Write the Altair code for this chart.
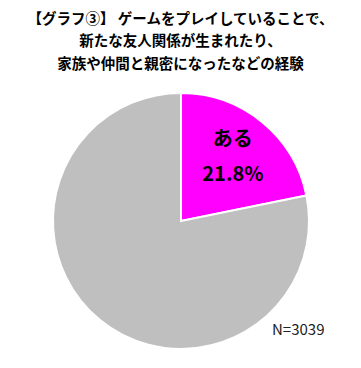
import altair as alt
import pandas as pd

categories = ["ある", "ない"]
values = [21.8, 78.2]
colors = ["#FF00FF", "#BFBFBF"]
title_lines = ["【グラフ③】 ゲームをプレイしていることで、", "新たな友人関係が生まれたり、", "家族や仲間と親密になったなどの経験"]
label_lines = ["ある", "21.8%"]
n_label = "N=3039"

df = pd.DataFrame({"cat": categories, "val": values, "order": [0, 1]})

CX, CY, R = 173, 146, 128

base = alt.Chart(df).encode(
    theta=alt.Theta("val:Q", stack=True),
    order=alt.Order("order:Q"),
    color=alt.Color("cat:N", scale=alt.Scale(domain=categories, range=colors), legend=None),
)

pie = base.mark_arc(outerRadius=R, stroke="white", strokeWidth=2).encode(
    x=alt.value(CX), y=alt.value(CY)
)

labels = alt.Chart(df).transform_filter(alt.datum.cat == "ある").mark_text(
    radius=82, fontSize=20, fontWeight="bold", font="Noto Sans CJK JP", color="black",
    lineHeight=35, baseline="middle", dy=-17
).encode(
    theta=alt.Theta("val:Q", stack=True),
    order=alt.Order("order:Q"),
    x=alt.value(CX), y=alt.value(CY),
    text=alt.value(label_lines),
)

ntext = alt.Chart(pd.DataFrame({"t": [n_label]})).mark_text(
    align="left", baseline="middle", fontSize=15, font="Noto Sans CJK JP", color="#222222"
).encode(x=alt.value(264), y=alt.value(255), text="t:N")

chart = alt.layer(pie, labels, ntext).properties(
    width=345, height=282,
    padding={"top": 3, "left": 0, "right": 0, "bottom": 0},
    title=alt.TitleParams(
        text=title_lines, fontSize=14.5, fontWeight="bold", font="Noto Sans CJK JP",
        lineHeight=22.5, anchor="middle", offset=3, color="black"
    ),
).configure_view(stroke=None)

chart.save("out.html", embed_options={"renderer": "svg", "actions": False})
